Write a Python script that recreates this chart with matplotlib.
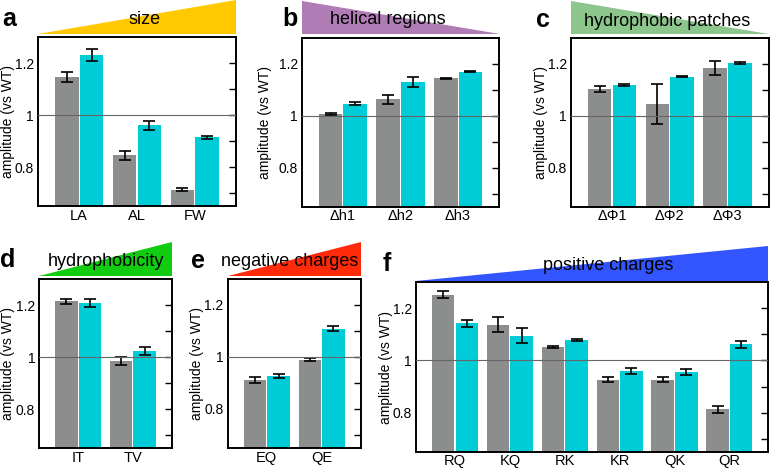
import matplotlib
matplotlib.use("Agg")
import matplotlib.pyplot as plt
from matplotlib.patches import Polygon

plt.rcParams['font.family'] = ['Liberation Sans', 'DejaVu Sans']

W, H = 771, 468

# ---------------- data ----------------
a_labels = ['LA', 'AL', 'FW']
a_gray = [1.148, 0.845, 0.713]
a_gray_err = [0.018, 0.017, 0.006]
a_cyan = [1.232, 0.961, 0.915]
a_cyan_err = [0.022, 0.017, 0.006]

b_labels = ['Δh1', 'Δh2', 'Δh3']
b_gray = [1.008, 1.063, 1.144]
b_gray_err = [0.004, 0.017, 0.002]
b_cyan = [1.046, 1.130, 1.169]
b_cyan_err = [0.005, 0.019, 0.002]

c_labels = ['ΔΦ1', 'ΔΦ2', 'ΔΦ3']
c_gray = [1.103, 1.045, 1.185]
c_gray_err = [0.012, 0.077, 0.027]
c_cyan = [1.118, 1.150, 1.203]
c_cyan_err = [0.004, 0.003, 0.003]

d_labels = ['IT', 'TV']
d_gray = [1.215, 0.986]
d_gray_err = [0.010, 0.015]
d_cyan = [1.208, 1.024]
d_cyan_err = [0.015, 0.015]

e_labels = ['EQ', 'QE']
e_gray = [0.912, 0.990]
e_gray_err = [0.013, 0.005]
e_cyan = [0.928, 1.109]
e_cyan_err = [0.007, 0.009]

f_labels = ['RQ', 'KQ', 'RK', 'KR', 'QK', 'QR']
f_gray = [1.253, 1.138, 1.053, 0.927, 0.927, 0.812]
f_gray_err = [0.013, 0.027, 0.004, 0.010, 0.010, 0.012]
f_cyan = [1.142, 1.095, 1.078, 0.959, 0.956, 1.062]
f_cyan_err = [0.013, 0.028, 0.004, 0.011, 0.011, 0.014]

GRAY = '#8c8e8e'
CYAN = '#00ccd8'

fig = plt.figure(figsize=(W / 100, H / 100), dpi=100)


def add_ax(l, r, t, b):
    return fig.add_axes([l / W, 1 - b / H, (r - l) / W, (b - t) / H])


def panel(box, lab_off, labels, g, ge, c, ce, letter, letter_xy, title, tri, tri_xy, tri_color):
    l, r, t, b = box
    ax = add_ax(l, r, t, b)
    n = len(labels)
    xs = list(range(n))
    w = 0.41
    off = 0.215
    ek = dict(ecolor='black', elinewidth=1.2, capsize=4, capthick=1.2)
    ax.bar([x - off for x in xs], g, width=w, color=GRAY, yerr=ge, error_kw=ek, zorder=2)
    ax.bar([x + off for x in xs], c, width=w, color=CYAN, yerr=ce, error_kw=ek, zorder=2)
    ax.axhline(1.0, color='#666666', lw=0.8, zorder=3)
    ax.set_xlim(-0.71, n - 1 + 0.71)
    ax.set_ylim(0.65, 1.30)
    ax.set_yticks([0.7, 0.8, 0.9, 1.0, 1.1, 1.2])
    ax.set_yticklabels(['', '0.8', '', '1', '', '1.2'])
    ax.set_xticks(xs)
    ax.set_xticklabels(labels, fontsize=10.5)
    ax.tick_params(axis='x', length=0, pad=2)
    ax.tick_params(axis='y', left=False, right=True, direction='in', length=5,
                   width=1, labelsize=10, pad=3)
    for s in ax.spines.values():
        s.set_linewidth(1.4)
    ax.set_ylabel('amplitude (vs WT)', fontsize=10)
    ax.yaxis.label.set_va('center')
    ax.yaxis.set_label_coords(-lab_off / (r - l), 0.5)
    # triangle
    pts = [(px / W, 1 - py / H) for px, py in tri]
    fig.patches.append(Polygon(pts, closed=True, transform=fig.transFigure,
                               facecolor=tri_color, edgecolor='none'))
    fig.text(tri_xy[0] / W, 1 - tri_xy[1] / H, title, fontsize=13,
             ha='center', va='center')
    fig.text(letter_xy[0] / W, 1 - letter_xy[1] / H, letter, fontsize=18,
             fontweight='bold', ha='center', va='center')
    return ax


panel((38, 236, 37.5, 206), 30.5, a_labels, a_gray, a_gray_err, a_cyan, a_cyan_err,
      'a', (9, 19), 'size', [(38, 34), (236, 34), (236, 0)], (145, 20), '#ffc800')
panel((302, 499, 37.7, 206.7), 37, b_labels, b_gray, b_gray_err, b_cyan, b_cyan_err,
      'b', (290, 19), 'helical regions', [(302, 1), (302, 34), (500, 34)], (388, 20), '#b07cb5')
panel((571, 768.7, 37.7, 206.7), 30, c_labels, c_gray, c_gray_err, c_cyan, c_cyan_err,
      'c', (543, 20), 'hydrophobic patches', [(571, 1), (571, 34), (769, 34)], (667, 21), '#8cc68c')
panel((39.3, 171.7, 279.3, 448.3), 31, d_labels, d_gray, d_gray_err, d_cyan, d_cyan_err,
      'd', (8, 260), 'hydrophobicity', [(39, 276), (172, 276), (172, 242)], (106, 261), '#11cc11')
panel((227.7, 360.7, 279, 448), 30.5, e_labels, e_gray, e_gray_err, e_cyan, e_cyan_err,
      'e', (198, 261), 'negative charges', [(228, 276), (361, 276), (361, 242)], (290, 261), '#ff2a0a')
panel((416, 768.3, 282.3, 451.7), 30, f_labels, f_gray, f_gray_err, f_cyan, f_cyan_err,
      'f', (387, 264), 'positive charges', [(416, 281), (768, 281), (768, 246)], (608, 265), '#3355ff')

fig.savefig('out.png', dpi=100)
